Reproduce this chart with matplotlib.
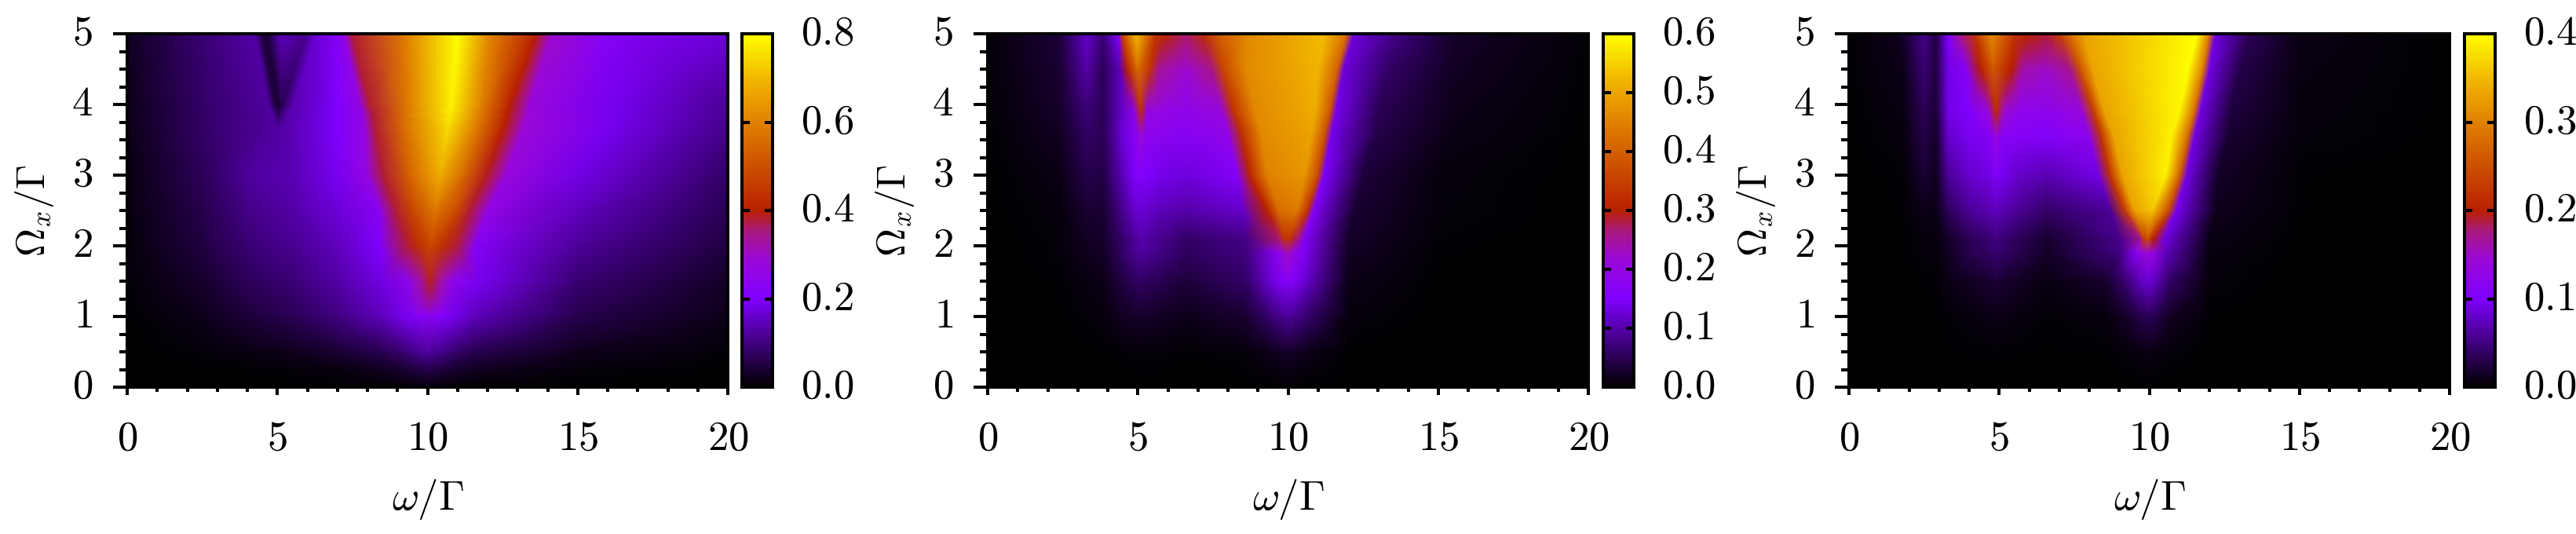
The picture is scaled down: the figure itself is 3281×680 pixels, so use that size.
import numpy as np
import matplotlib
matplotlib.use('Agg')
import matplotlib.pyplot as plt
from matplotlib.colors import LinearSegmentedColormap
from matplotlib.ticker import MultipleLocator
from matplotlib.transforms import ScaledTranslation

plt.rcParams['mathtext.fontset'] = 'cm'

W, H = 3281, 680

x_ticks = [0, 5, 10, 15, 20]
y_ticks = [0, 1, 2, 3, 4, 5]
x_tick_labels = ['$0$', '$5$', '$10$', '$15$', '$20$']
y_tick_labels = ['$0$', '$1$', '$2$', '$3$', '$4$', '$5$']
cb_ticks_a = [0.0, 0.2, 0.4, 0.6, 0.8]
cb_ticks_b = [0.0, 0.1, 0.2, 0.3, 0.4, 0.5, 0.6]
cb_ticks_c = [0.0, 0.1, 0.2, 0.3, 0.4]

# each row is one Omega_x value, the knots follow the features of the map
omega_a = [0, 0.25, 0.5, 1, 1.5, 2, 2.5, 3, 3.7, 3.85, 4, 5]
knots_a = [
    [0, 2.5, 4, 4.5, 4.8, 5, 5.2, 5.5, 7, 8.5, 9.2, 9.6, 10, 10.4, 10.8, 11.5, 15, 20],
    [0, 2.5, 4, 4.5, 4.8, 5, 5.2, 5.5, 7, 8.5, 9.2, 9.6, 10, 10.4, 10.8, 11.5, 15, 20],
    [0, 2.5, 4, 4.5, 4.8, 5, 5.2, 5.5, 7, 8.5, 9.2, 9.6, 10, 10.4, 10.8, 11.5, 15, 20],
    [0, 2.5, 4, 4.5, 4.8, 5, 5.2, 5.5, 7, 8.5, 9.2, 9.6, 10.05, 10.5, 10.9, 11.5, 15, 20],
    [0, 2.5, 4, 4.5, 4.8, 5, 5.2, 5.5, 7, 8.5, 9.4, 9.8, 10.1, 10.4, 10.8, 11.7, 15, 20],
    [0, 2.5, 4, 4.5, 4.8, 5, 5.2, 5.5, 7, 8.4, 9.36, 9.7, 10.1, 10.5, 10.95, 11.6, 15, 20],
    [0, 2.5, 4, 4.5, 4.8, 5, 5.2, 5.5, 7, 8.4, 8.95, 9.5, 10.25, 11, 11.4, 12, 15, 20],
    [0, 2.5, 4, 4.5, 4.8, 5, 5.2, 5.5, 7, 8, 8.53, 9.4, 10.4, 11.2, 11.95, 12.6, 15, 20],
    [0, 2.5, 4.85, 4.97, 5.03, 5.07, 5.1, 5.3, 7, 7.9, 8.25, 9.2, 10.7, 11.6, 12.55, 13.2, 16, 20],
    [0, 2.5, 4.85, 4.97, 5.03, 5.07, 5.1, 5.3, 7, 7.85, 8.2, 9.25, 10.75, 11.7, 12.65, 13.3, 16, 20],
    [0, 2.5, 4.7, 4.9, 5.03, 5.12, 5.2, 5.5, 7, 7.75, 8.07, 9.3, 10.8, 11.8, 12.75, 13.4, 16, 20],
    [0, 2.5, 4.25, 4.5, 4.7, 5.1, 5.95, 6.3, 7, 7.2, 7.5, 9.3, 11, 12, 13.6, 14.1, 16, 20],
]
values_a = [
    [0, 0, 0, 0, 0, 0, 0, 0, .002, .004, .006, .008, .01, .008, .006, .004, .001, 0],
    [0, .002, .004, .005, .005, .006, .006, .007, .012, .025, .04, .05, .06, .05, .04, .025, .008, .002],
    [.001, .007, .014, .016, .018, .02, .021, .023, .04, .065, .09, .11, .125, .11, .09, .065, .022, .006],
    [.003, .02, .045, .052, .056, .06, .062, .066, .1, .15, .185, .205, .235, .205, .185, .15, .06, .02],
    [.005, .035, .07, .078, .082, .085, .088, .092, .13, .18, .25, .33, .39, .33, .25, .19, .09, .03],
    [.007, .05, .09, .098, .102, .105, .108, .112, .15, .2, .38, .43, .48, .43, .38, .22, .12, .05],
    [.01, .06, .105, .115, .12, .122, .125, .13, .17, .23, .38, .48, .58, .48, .38, .26, .15, .065],
    [.012, .07, .12, .13, .133, .135, .138, .142, .19, .27, .38, .54, .68, .55, .39, .28, .18, .08],
    [.018, .08, .125, .125, .125, .128, .13, .135, .2, .27, .38, .56, .75, .6, .4, .29, .19, .11],
    [.018, .08, .125, .09, .06, .08, .09, .13, .2, .27, .38, .57, .77, .6, .4, .29, .19, .115],
    [.02, .08, .125, .06, .04, .06, .07, .135, .2, .27, .38, .58, .78, .6, .4, .28, .19, .12],
    [.025, .09, .13, .045, .05, .15, .115, .17, .22, .25, .38, .6, .8, .62, .4, .3, .22, .17],
]

omega_b = [0, 0.5, 1, 1.5, 1.9, 2.1, 2.5, 3, 3.6, 3.9, 4.5, 5]
knots_b = [
    [0, 2.4, 3.3, 3.85, 4.5, 4.9, 5.1, 5.3, 5.7, 6.6, 8.6, 9.4, 9.8, 10, 10.2, 10.6, 12, 15, 20],
    [0, 2.4, 3.3, 3.85, 4.5, 4.9, 5.1, 5.3, 5.7, 6.6, 8.6, 9.4, 9.8, 10, 10.2, 10.6, 12, 15, 20],
    [0, 2.4, 3.3, 3.85, 4.5, 4.9, 5.1, 5.3, 5.7, 6.6, 8.6, 9.4, 9.8, 10, 10.2, 10.6, 12, 15, 20],
    [0, 2.4, 3.3, 3.85, 4.5, 4.9, 5.1, 5.3, 5.7, 6.6, 8.6, 9.4, 9.8, 10, 10.2, 10.6, 12, 15, 20],
    [0, 2.4, 3.3, 3.85, 4.5, 4.9, 5.1, 5.3, 5.7, 6.6, 8.6, 9.6, 9.9, 10, 10.15, 10.5, 12, 15, 20],
    [0, 2.4, 3.3, 3.85, 4.5, 4.9, 5.1, 5.3, 5.7, 6.6, 8.6, 9.7, 9.9, 10.05, 10.3, 10.55, 12, 15, 20],
    [0, 2.4, 3.3, 3.85, 4.5, 4.9, 5.1, 5.3, 5.7, 6.6, 8.5, 9.3, 9.7, 10.3, 10.65, 10.85, 12.2, 15, 20],
    [0, 2.4, 3.3, 3.85, 4.5, 4.9, 5.1, 5.3, 5.7, 6.6, 8.3, 8.75, 9.3, 10.55, 11, 11.2, 12.5, 15, 20],
    [0, 2.4, 3.3, 3.85, 4.5, 4.9, 5.1, 5.3, 5.7, 6.6, 8.0, 8.45, 9.1, 10.8, 11.25, 11.45, 12.9, 15.5, 20],
    [0, 2.4, 3.3, 3.85, 4.5, 4.9, 5.1, 5.3, 5.7, 6.6, 7.8, 8.2, 8.9, 10.9, 11.4, 11.6, 13, 15.5, 20],
    [0, 2.4, 3.3, 3.85, 4.4, 4.65, 5.0, 5.4, 5.7, 6.6, 7.45, 7.85, 8.6, 11, 11.65, 11.85, 13.3, 15.5, 20],
    [0, 2.4, 3.3, 3.85, 4.35, 4.5, 4.95, 5.6, 5.9, 6.6, 7.2, 7.6, 8.6, 11.2, 11.95, 12.2, 13.5, 15.5, 20],
]
values_b = [
    [0, 0, 0, 0, 0, 0, 0, 0, 0, 0, 0, .001, .002, .002, .002, .001, 0, 0, 0],
    [0, .001, .002, .002, .004, .005, .006, .005, .005, .003, .006, .016, .022, .025, .022, .016, .002, 0, 0],
    [0, .002, .005, .008, .02, .024, .025, .024, .022, .015, .03, .065, .085, .09, .085, .065, .008, .001, 0],
    [0, .003, .01, .015, .04, .055, .06, .055, .05, .035, .06, .125, .155, .165, .155, .12, .015, .002, 0],
    [0, .005, .018, .022, .06, .085, .092, .09, .078, .055, .075, .17, .22, .23, .2, .16, .022, .003, 0],
    [0, .005, .02, .025, .065, .09, .1, .095, .085, .06, .08, .27, .33, .33, .27, .16, .025, .004, 0],
    [.001, .008, .03, .03, .085, .12, .125, .12, .11, .1, .12, .3, .42, .44, .33, .16, .03, .006, 0],
    [.001, .012, .045, .04, .11, .15, .16, .15, .14, .13, .16, .31, .45, .48, .36, .15, .035, .008, .001],
    [.002, .02, .06, .05, .13, .17, .22, .18, .18, .17, .19, .32, .46, .5, .37, .14, .045, .012, .002],
    [.003, .025, .07, .05, .12, .19, .32, .2, .2, .185, .21, .33, .46, .51, .38, .14, .05, .015, .002],
    [.004, .03, .1, .05, .11, .3, .42, .33, .25, .22, .26, .36, .46, .52, .4, .13, .06, .02, .003],
    [.005, .035, .12, .07, .15, .36, .53, .33, .31, .27, .32, .38, .46, .53, .42, .13, .08, .025, .004],
]

omega_c = [0, 0.5, 1, 1.5, 1.9, 2.1, 2.5, 3, 3.55, 3.9, 4.5, 5]
knots_c = [
    [0, 1.8, 2.5, 2.9, 3.3, 4, 4.7, 4.9, 5.1, 5.6, 6.6, 8.6, 9.2, 9.7, 9.95, 10.2, 10.7, 12, 15, 20],
    [0, 1.8, 2.5, 2.9, 3.3, 4, 4.7, 4.9, 5.1, 5.6, 6.6, 8.6, 9.2, 9.7, 9.95, 10.2, 10.7, 12, 15, 20],
    [0, 1.8, 2.5, 2.9, 3.3, 4, 4.7, 4.9, 5.1, 5.6, 6.6, 8.6, 9.2, 9.7, 9.95, 10.2, 10.7, 12, 15, 20],
    [0, 1.8, 2.5, 2.9, 3.3, 4, 4.7, 4.9, 5.1, 5.6, 6.6, 8.6, 9.2, 9.7, 9.95, 10.2, 10.7, 12, 15, 20],
    [0, 1.8, 2.5, 2.9, 3.3, 4, 4.7, 4.9, 5.1, 5.6, 6.6, 9.0, 9.55, 9.8, 9.95, 10.15, 10.55, 12, 15, 20],
    [0, 1.8, 2.5, 2.9, 3.3, 4, 4.7, 4.9, 5.1, 5.6, 6.6, 9.0, 9.7, 9.82, 9.95, 10.12, 10.5, 12, 15, 20],
    [0, 1.8, 2.5, 2.9, 3.3, 4, 4.7, 4.9, 5.1, 5.6, 6.6, 8.7, 9.2, 9.5, 10.1, 10.66, 10.9, 12.2, 15, 20],
    [0, 1.8, 2.5, 2.9, 3.3, 4, 4.7, 4.9, 5.1, 5.6, 6.6, 8.3, 8.7, 9.1, 10.55, 11.03, 11.25, 12.3, 15, 20],
    [0, 1.8, 2.5, 2.9, 3.3, 4, 4.7, 4.9, 5.1, 5.6, 6.6, 8.0, 8.4, 8.8, 10.75, 11.3, 11.5, 12.6, 15, 20],
    [0, 1.8, 2.5, 2.9, 3.3, 4, 4.65, 4.9, 5.15, 5.6, 6.6, 7.75, 8.15, 8.5, 11, 11.5, 11.7, 12.7, 15, 20],
    [0, 1.8, 2.5, 2.9, 3.3, 3.9, 4.4, 4.8, 5.4, 5.8, 6.6, 7.35, 7.7, 8.1, 11.3, 11.8, 12, 13, 15, 20],
    [0, 1.7, 2.5, 2.9, 3.3, 3.7, 4.2, 4.75, 5.5, 6.0, 6.6, 7.0, 7.35, 7.8, 11.6, 12, 12.2, 13.3, 15, 20],
]
values_c = [
    [0, 0, 0, 0, 0, 0, 0, 0, 0, 0, 0, 0, 0, 0, 0, 0, 0, 0, 0, 0],
    [0, 0, 0, 0, .001, .002, .002, .002, .002, .002, .001, .002, .004, .007, .008, .007, .004, 0, 0, 0],
    [0, 0, .001, .001, .003, .005, .008, .009, .009, .006, .003, .006, .016, .03, .034, .03, .014, .002, 0, 0],
    [0, .001, .002, .002, .008, .014, .02, .022, .02, .015, .007, .018, .045, .075, .085, .075, .04, .004, 0, 0],
    [0, .001, .004, .004, .014, .03, .04, .045, .04, .032, .015, .05, .11, .135, .14, .13, .075, .006, .001, 0],
    [0, .001, .004, .005, .016, .033, .045, .05, .045, .036, .018, .055, .17, .23, .25, .2, .09, .008, .001, 0],
    [0, .002, .01, .008, .035, .06, .07, .075, .07, .06, .04, .06, .23, .33, .36, .24, .095, .012, .002, 0],
    [0, .003, .02, .012, .06, .08, .09, .105, .095, .08, .07, .09, .22, .33, .39, .26, .09, .015, .002, 0],
    [.001, .005, .03, .015, .08, .095, .11, .14, .11, .11, .105, .12, .22, .33, .39, .27, .09, .02, .004, .001],
    [.001, .007, .035, .02, .09, .1, .14, .21, .15, .125, .12, .14, .23, .33, .395, .28, .09, .025, .005, .001],
    [.002, .01, .045, .025, .09, .11, .2, .26, .2, .16, .15, .17, .25, .33, .4, .29, .09, .03, .007, .001],
    [.002, .012, .055, .025, .1, .17, .22, .31, .22, .2, .19, .23, .28, .33, .4, .29, .09, .035, .008, .001],
]

palette = LinearSegmentedColormap.from_list('palette', [
    (0.0, '#000000'), (0.25, '#8000ff'), (0.36, '#9a08d8'), (0.44, '#a81880'),
    (0.5, '#b82000'), (0.75, '#e08000'), (0.875, '#f2b800'), (1.0, '#ffff00'),
], N=512)

panels = [
    (162, 945, omega_a, knots_a, values_a, 0.8, cb_ticks_a),
    (1258, 2042, omega_b, knots_b, values_b, 0.6, cb_ticks_b),
    (2355, 3139, omega_c, knots_c, values_c, 0.4, cb_ticks_c),
]

fig = plt.figure(figsize=(W / 100, H / 100), dpi=100)
px = 72 / 100
lw = 4 * px
top, bottom = 43, 493
# tick labels sit a little higher than matplotlib centres them
raise_labels = ScaledTranslation(0, 6.5 / 100, fig.dpi_scale_trans)

for left, cb_left, omega, knots, values, vmax, cb_ticks in panels:
    ax = fig.add_axes([left / W, 1 - bottom / H, 765 / W, (bottom - top) / H])
    X = np.array(knots)
    Y = np.repeat(np.array(omega)[:, None], X.shape[1], axis=1)
    mesh = ax.pcolormesh(X, Y, np.array(values), cmap=palette, vmin=0, vmax=vmax,
                         shading='gouraud', rasterized=True)
    ax.set_xlim(0, 20)
    ax.set_ylim(0, 5)
    ax.set_xticks(x_ticks, labels=x_tick_labels)
    ax.set_yticks(y_ticks, labels=y_tick_labels)
    ax.xaxis.set_minor_locator(MultipleLocator(1))
    ax.yaxis.set_minor_locator(MultipleLocator(0.25))
    ax.tick_params(axis='x', which='major', length=10 * px, width=lw, pad=29 * px, labelsize=38)
    ax.tick_params(axis='x', which='minor', length=6 * px, width=lw)
    ax.tick_params(axis='y', which='major', length=18 * px, width=lw, pad=26 * px, labelsize=38)
    ax.tick_params(axis='y', which='minor', length=10 * px, width=lw)
    for spine in ax.spines.values():
        spine.set_linewidth(lw)
    ax.set_xlabel(r'$\omega/\Gamma$', fontsize=38, labelpad=24 * px)
    ax.set_ylabel(r'$\Omega_x/\Gamma$', fontsize=36, labelpad=20 * px)

    cax = fig.add_axes([cb_left / W, 1 - bottom / H, 39 / W, (bottom - top) / H])
    cb = fig.colorbar(mesh, cax=cax, ticks=cb_ticks)
    cb.ax.set_yticklabels(['$%.1f$' % t for t in cb_ticks])
    cb.outline.set_linewidth(lw)
    cb.ax.tick_params(which='both', direction='in', left=True, right=True,
                      length=10 * px, width=lw, pad=36 * px, labelsize=38)
    cb.ax.minorticks_off()

    for label in ax.get_yticklabels() + cb.ax.get_yticklabels():
        label.set_transform(label.get_transform() + raise_labels)

fig.savefig('out.png', dpi=100)
